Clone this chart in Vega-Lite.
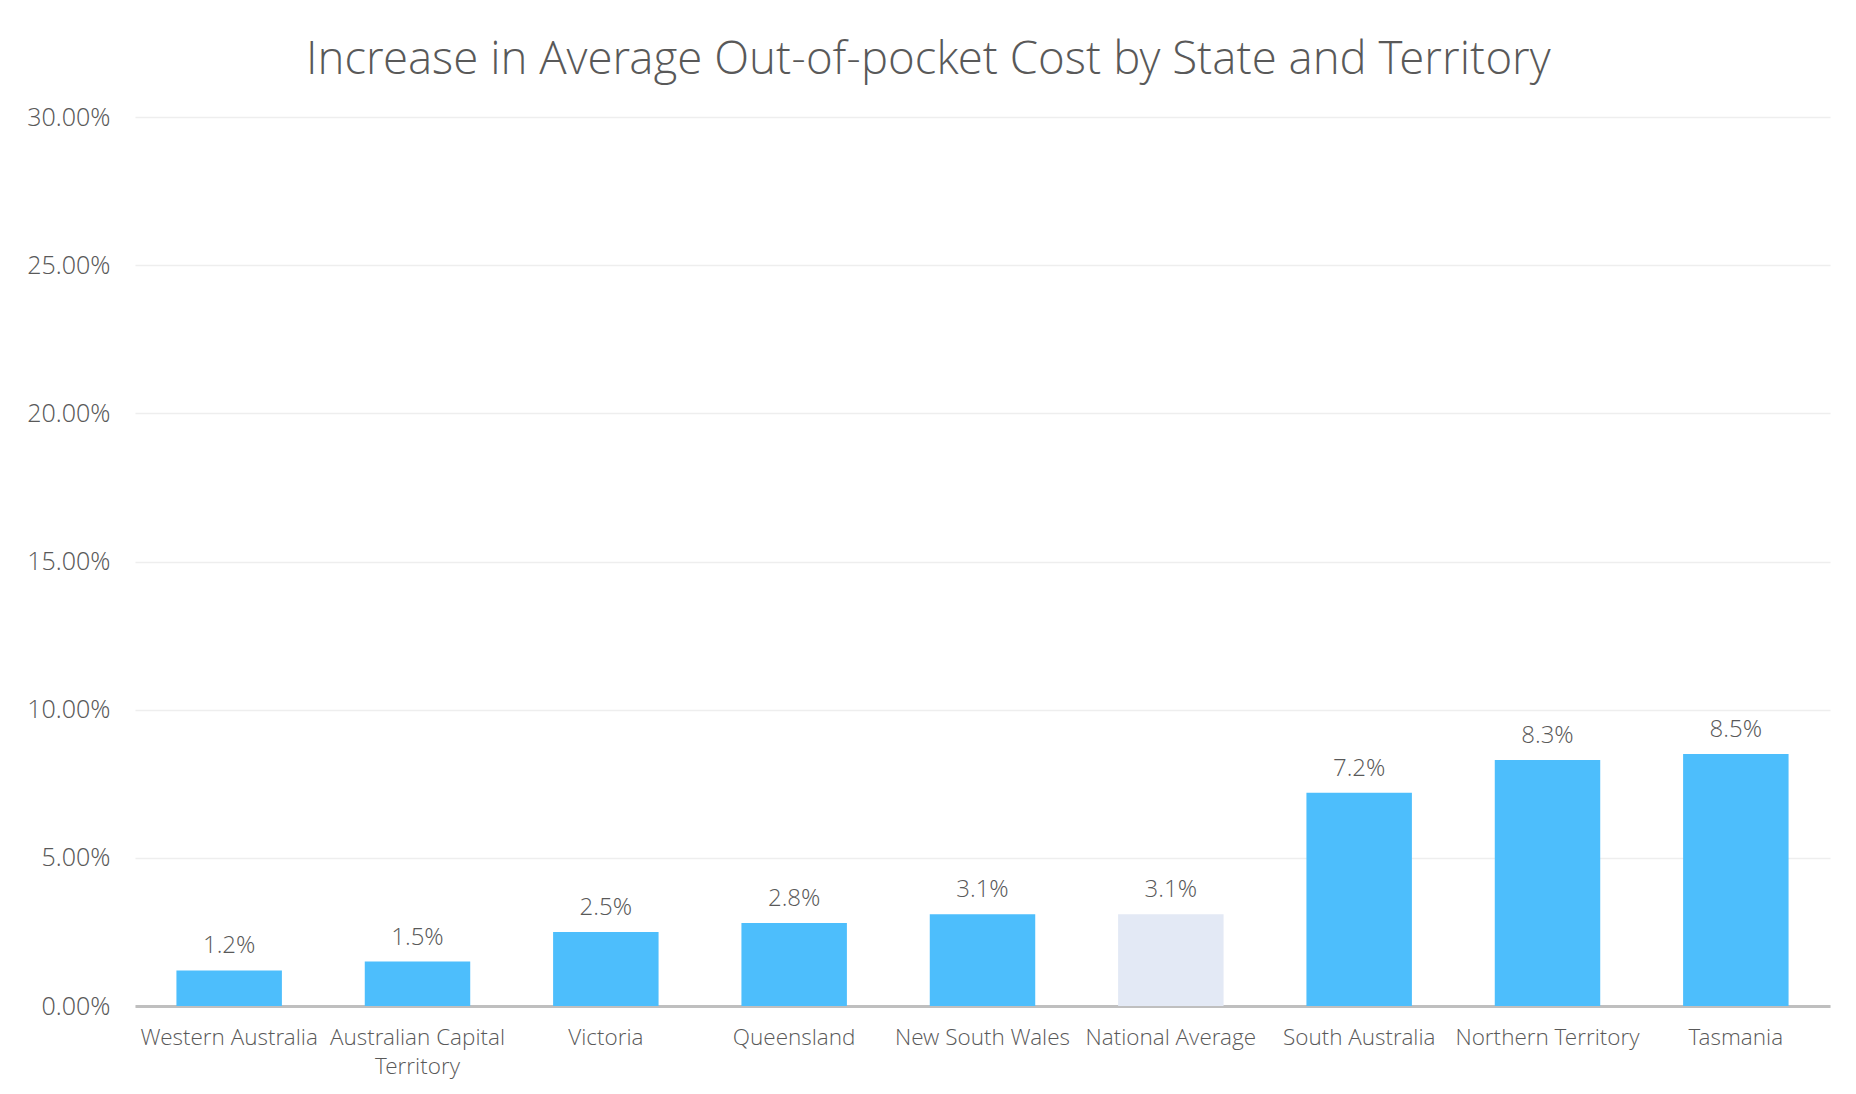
{
  "$schema": "https://vega.github.io/schema/vega-lite/v6.json",
  "width": 1695,
  "height": 889,
  "padding": {"left": 26, "top": 37, "right": 20, "bottom": 10},
  "background": "white",
  "title": {
    "text": "Increase in Average Out-of-pocket Cost by State and Territory",
    "font": "Open Sans Light, Open Sans",
    "fontWeight": 300,
    "fontSize": 45.6,
    "color": "#595959",
    "anchor": "middle",
    "frame": "bounds",
    "offset": 21.5
  },
  "data": {
    "values": [
      {"region": "Western Australia", "value": 0.012, "type": "state"},
      {"region": "Australian Capital Territory", "value": 0.015, "type": "state"},
      {"region": "Victoria", "value": 0.025, "type": "state"},
      {"region": "Queensland", "value": 0.028, "type": "state"},
      {"region": "New South Wales", "value": 0.031, "type": "state"},
      {"region": "National Average", "value": 0.031, "type": "national"},
      {"region": "South Australia", "value": 0.072, "type": "state"},
      {"region": "Northern Territory", "value": 0.083, "type": "state"},
      {"region": "Tasmania", "value": 0.085, "type": "state"}
    ]
  },
  "config": {
    "view": {"stroke": null},
    "font": "Open Sans Light, Open Sans",
    "axis": {
      "labelFont": "Open Sans Light, Open Sans",
      "labelFontWeight": 300,
      "labelColor": "#595959",
      "labelLimit": 400,
      "ticks": false,
      "title": null
    }
  },
  "encoding": {
    "x": {
      "field": "region",
      "type": "nominal",
      "sort": null,
      "scale": {"paddingInner": 0.44, "paddingOuter": 0.22},
      "axis": {
        "labelAngle": 0,
        "labelFontSize": 22.5,
        "labelPadding": 20,
        "labelLineHeight": 29,
        "labelBaseline": "top",
        "domainColor": "#BFBFBF",
        "domainWidth": 3,
        "grid": false,
        "labelExpr": "datum.label == 'Australian Capital Territory' ? ['Australian Capital', 'Territory'] : datum.label"
      }
    },
    "y": {
      "field": "value",
      "type": "quantitative",
      "scale": {"domain": [0, 0.3]},
      "axis": {
        "values": [0, 0.05, 0.1, 0.15, 0.2, 0.25, 0.3],
        "format": ".2%",
        "labelFontSize": 25,
        "labelPadding": 25,
        "domain": false,
        "grid": true,
        "gridColor": "#EEEEEE",
        "gridWidth": 1.5
      }
    }
  },
  "layer": [
    {
      "mark": {"type": "bar"},
      "encoding": {
        "color": {
          "field": "type",
          "type": "nominal",
          "scale": {"domain": ["state", "national"], "range": ["#4DBEFC", "#E3E9F5"]},
          "legend": null
        }
      }
    },
    {
      "mark": {
        "type": "text",
        "baseline": "bottom",
        "dy": -12,
        "font": "Open Sans Light, Open Sans",
        "fontWeight": 300,
        "fontSize": 24,
        "color": "#595959"
      },
      "encoding": {
        "text": {"field": "value", "type": "quantitative", "format": ".1%"}
      }
    }
  ]
}
